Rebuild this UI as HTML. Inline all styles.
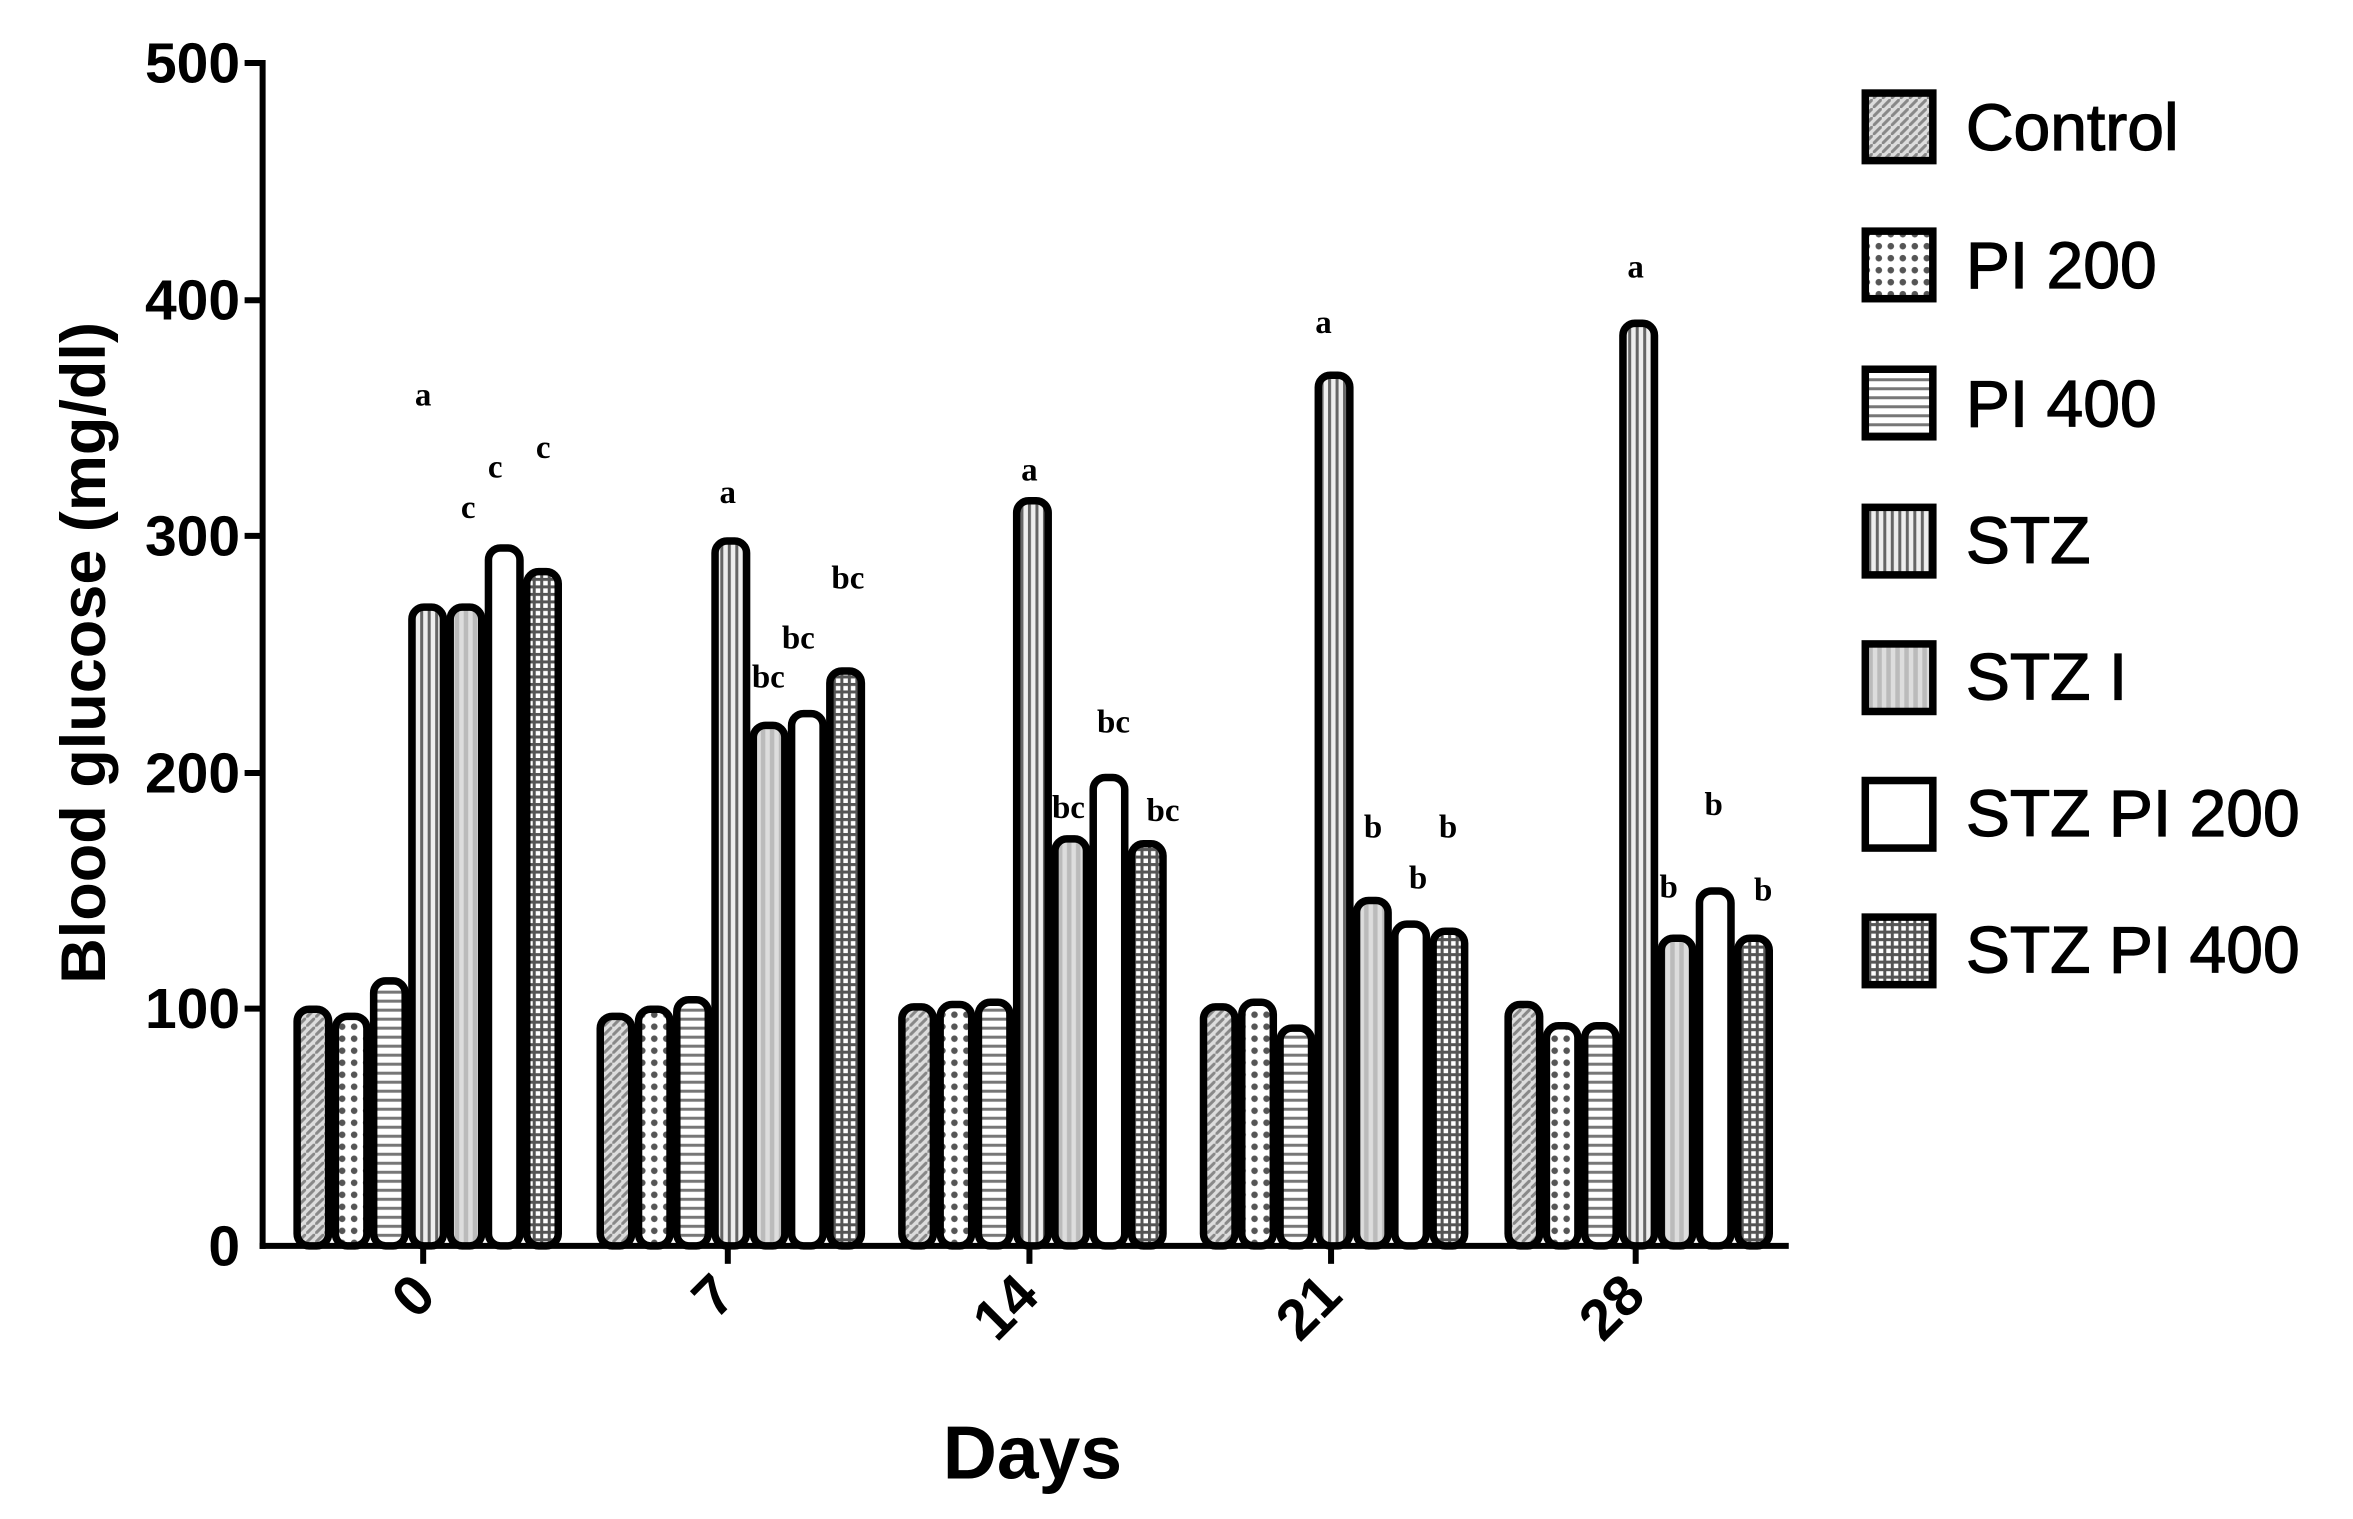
<!DOCTYPE html>
<html><head><meta charset="utf-8"><style>html,body{margin:0;padding:0;background:#fff}svg{display:block}</style></head>
<body>
<svg width="2353" height="1519" viewBox="0 0 1568 1012" preserveAspectRatio="none" xmlns="http://www.w3.org/2000/svg" font-family="Liberation Sans, sans-serif" font-weight="bold">
<defs>
<pattern id="p0" width="6" height="6" patternUnits="userSpaceOnUse"><rect width="6" height="6" fill="#ddd"/><path d="M0 6L6 0" stroke="#888" stroke-width="2"/></pattern>
<pattern id="p1" width="8" height="8" patternUnits="userSpaceOnUse"><rect width="8" height="8" fill="#fff"/><circle cx="4" cy="4" r="2.2" fill="#555"/></pattern>
<pattern id="p2" width="6" height="6" patternUnits="userSpaceOnUse"><rect width="6" height="6" fill="#fff"/><rect y="0" width="6" height="2" fill="#777"/></pattern>
<pattern id="p3" width="5" height="5" patternUnits="userSpaceOnUse"><rect width="5" height="5" fill="#eee"/><rect width="2" height="5" fill="#666"/></pattern>
<pattern id="p4" width="6" height="6" patternUnits="userSpaceOnUse"><rect width="6" height="6" fill="#bbb"/><rect width="3" height="6" fill="#ddd"/></pattern>
<pattern id="p5" width="6" height="6" patternUnits="userSpaceOnUse"><rect width="6" height="6" fill="#fff"/></pattern>
<pattern id="p6" width="5" height="5" patternUnits="userSpaceOnUse"><rect width="5" height="5" fill="#fff"/><rect width="2" height="5" fill="#555"/><rect width="5" height="2" fill="#555"/></pattern>
</defs>
<g stroke="#000" stroke-width="4" fill="none">
<line x1="175" y1="40" x2="175" y2="832"/>
<line x1="173" y1="830" x2="1192" y2="830"/>
<line x1="163" y1="42" x2="175" y2="42"/><line x1="163" y1="200" x2="175" y2="200"/><line x1="163" y1="357" x2="175" y2="357"/><line x1="163" y1="515" x2="175" y2="515"/><line x1="163" y1="672" x2="175" y2="672"/>
<line x1="282" y1="830" x2="282" y2="842"/><line x1="485" y1="830" x2="485" y2="842"/><line x1="686" y1="830" x2="686" y2="842"/><line x1="887" y1="830" x2="887" y2="842"/><line x1="1090" y1="830" x2="1090" y2="842"/>
</g>
<g font-size="38" text-anchor="end">
<text x="160" y="55">500</text><text x="160" y="213">400</text><text x="160" y="370">300</text><text x="160" y="528">200</text><text x="160" y="685">100</text><text x="160" y="843">0</text>
</g>
<g font-size="38" text-anchor="end">
<text transform="translate(292,865) rotate(-45)">0</text>
<text transform="translate(492,865) rotate(-45)">7</text>
<text transform="translate(694,865) rotate(-45)">14</text>
<text transform="translate(896,865) rotate(-45)">21</text>
<text transform="translate(1098,865) rotate(-45)">28</text>
</g>
<text x="688" y="985" font-size="50" text-anchor="middle">Days</text>
<text transform="translate(70,435) rotate(-90)" font-size="42" text-anchor="middle">Blood glucose (mg/dl)</text>
<g stroke="#000" stroke-width="5">
<rect x="198" y="672.4" width="21" height="157.6" rx="8" fill="url(#p0)"/>
<rect x="223.5" y="677.1" width="21" height="152.9" rx="8" fill="url(#p1)"/>
<rect x="249" y="653.5" width="21" height="176.5" rx="8" fill="url(#p2)"/>
<rect x="274.5" y="404.5" width="21" height="425.5" rx="8" fill="url(#p3)"/>
<rect x="300" y="404.5" width="21" height="425.5" rx="8" fill="url(#p4)"/>
<rect x="325.5" y="365.1" width="21" height="464.9" rx="8" fill="url(#p5)"/>
<rect x="351" y="380.8" width="21" height="449.2" rx="8" fill="url(#p6)"/>

<rect x="400" y="677.1" width="21" height="152.9" rx="8" fill="url(#p0)"/>
<rect x="425.5" y="672.4" width="21" height="157.6" rx="8" fill="url(#p1)"/>
<rect x="451" y="666.1" width="21" height="163.9" rx="8" fill="url(#p2)"/>
<rect x="476.5" y="360.4" width="21" height="469.6" rx="8" fill="url(#p3)"/>
<rect x="502" y="483.3" width="21" height="346.7" rx="8" fill="url(#p4)"/>
<rect x="527.5" y="475.4" width="21" height="354.6" rx="8" fill="url(#p5)"/>
<rect x="553" y="447" width="21" height="383" rx="8" fill="url(#p6)"/>

<rect x="601" y="670.8" width="21" height="159.2" rx="8" fill="url(#p0)"/>
<rect x="626.5" y="669.2" width="21" height="160.8" rx="8" fill="url(#p1)"/>
<rect x="652" y="667.7" width="21" height="162.3" rx="8" fill="url(#p2)"/>
<rect x="677.5" y="333.6" width="21" height="496.4" rx="8" fill="url(#p3)"/>
<rect x="703" y="558.9" width="21" height="271.1" rx="8" fill="url(#p4)"/>
<rect x="728.5" y="518" width="21" height="312" rx="8" fill="url(#p5)"/>
<rect x="754" y="562.1" width="21" height="267.9" rx="8" fill="url(#p6)"/>

<rect x="802" y="670.8" width="21" height="159.2" rx="8" fill="url(#p0)"/>
<rect x="827.5" y="667.7" width="21" height="162.3" rx="8" fill="url(#p1)"/>
<rect x="853" y="685" width="21" height="145" rx="8" fill="url(#p2)"/>
<rect x="878.5" y="250" width="21" height="580" rx="8" fill="url(#p3)"/>
<rect x="904" y="599.9" width="21" height="230.1" rx="8" fill="url(#p4)"/>
<rect x="929.5" y="615.7" width="21" height="214.3" rx="8" fill="url(#p5)"/>
<rect x="955" y="620.4" width="21" height="209.6" rx="8" fill="url(#p6)"/>

<rect x="1005" y="669.2" width="21" height="160.8" rx="8" fill="url(#p0)"/>
<rect x="1030.5" y="683.4" width="21" height="146.6" rx="8" fill="url(#p1)"/>
<rect x="1056" y="683.4" width="21" height="146.6" rx="8" fill="url(#p2)"/>
<rect x="1081.5" y="215.4" width="21" height="614.6" rx="8" fill="url(#p3)"/>
<rect x="1107" y="625.1" width="21" height="204.9" rx="8" fill="url(#p4)"/>
<rect x="1132.5" y="593.6" width="21" height="236.4" rx="8" fill="url(#p5)"/>
<rect x="1158" y="625.1" width="21" height="204.9" rx="8" fill="url(#p6)"/>
</g>
<g font-size="22" font-family="Liberation Serif, serif" text-anchor="middle">
<text x="282" y="270">a</text><text x="312" y="345">c</text><text x="330" y="318">c</text><text x="362" y="305">c</text>
<text x="485" y="335">a</text><text x="512" y="458">bc</text><text x="532" y="432">bc</text><text x="565" y="392">bc</text>
<text x="686" y="320">a</text><text x="712" y="545">bc</text><text x="742" y="488">bc</text><text x="775" y="547">bc</text>
<text x="882" y="222">a</text><text x="915" y="558">b</text><text x="945" y="592">b</text><text x="965" y="558">b</text>
<text x="1090" y="185">a</text><text x="1112" y="598">b</text><text x="1142" y="543">b</text><text x="1175" y="600">b</text>
</g>
<g font-size="44" font-weight="normal" stroke="#000" stroke-width="0.8">
<text x="1310" y="100">Control</text><text x="1310" y="192">PI 200</text><text x="1310" y="284">PI 400</text><text x="1310" y="375">STZ</text><text x="1310" y="466">STZ I</text><text x="1310" y="557">STZ PI 200</text><text x="1310" y="648">STZ PI 400</text>
</g>
<g stroke="#000" stroke-width="5">
<rect x="1243" y="62" width="45" height="45" fill="url(#p0)"/>
<rect x="1243" y="154" width="45" height="45" fill="url(#p1)"/>
<rect x="1243" y="246" width="45" height="45" fill="url(#p2)"/>
<rect x="1243" y="338" width="45" height="45" fill="url(#p3)"/>
<rect x="1243" y="429" width="45" height="45" fill="url(#p4)"/>
<rect x="1243" y="520" width="45" height="45" fill="url(#p5)"/>
<rect x="1243" y="611" width="45" height="45" fill="url(#p6)"/>
</g>
</svg>
</body></html>
